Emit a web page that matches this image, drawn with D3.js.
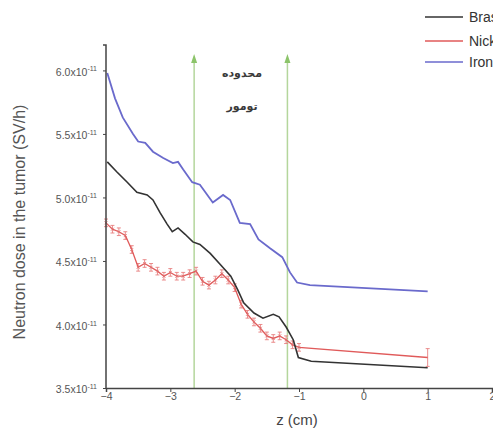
<!DOCTYPE html>
<html><head><meta charset="utf-8">
<script src="https://cdn.jsdelivr.net/npm/d3@7"></script>
<style>body{margin:0;background:#fff;overflow:hidden}</style>
</head><body><svg id="c" width="493" height="430"></svg>
<script>
const seriesNames = ["Brass", "Nickel", "Iron"];
const seriesColors = ["#333333", "#e05a5a", "#6a6acc"];
const xTicks = [-4, -3, -2, -1, 0, 1, 2];
const yTicks = [3.5, 4.0, 4.5, 5.0, 5.5, 6.0];
const ironZ = [-3.98,-3.86,-3.74,-3.58,-3.50,-3.39,-3.27,-3.11,-2.96,-2.88,-2.80,-2.66,-2.54,-2.34,-2.18,-2.07,-1.92,-1.76,-1.63,-1.45,-1.26,-1.14,-1.03,-0.83,1.0];
const ironV = [5.98,5.78,5.63,5.50,5.44,5.43,5.36,5.31,5.27,5.28,5.22,5.12,5.10,4.96,5.02,4.98,4.80,4.79,4.67,4.60,4.53,4.41,4.33,4.31,4.26];
const brassZ = [-3.98,-3.83,-3.67,-3.52,-3.36,-3.27,-3.16,-3.05,-2.97,-2.88,-2.77,-2.65,-2.54,-2.38,-2.22,-2.06,-1.95,-1.86,-1.70,-1.56,-1.40,-1.31,-1.20,-1.09,-1.01,-0.81,1.0];
const brassV = [5.28,5.20,5.12,5.04,5.02,4.98,4.88,4.79,4.73,4.76,4.71,4.65,4.63,4.56,4.47,4.38,4.27,4.17,4.09,4.05,4.08,4.06,3.98,3.88,3.74,3.71,3.66];
const nickelZ = [-4.0,-3.9,-3.8,-3.7,-3.6,-3.5,-3.4,-3.3,-3.2,-3.1,-3.0,-2.9,-2.8,-2.7,-2.6,-2.5,-2.4,-2.3,-2.2,-2.1,-2.0,-1.9,-1.8,-1.7,-1.6,-1.5,-1.4,-1.3,-1.2,-1.1,-1.0,1.0];
const nickelV = [4.80,4.75,4.73,4.70,4.59,4.45,4.48,4.45,4.42,4.38,4.41,4.38,4.38,4.40,4.42,4.34,4.31,4.35,4.40,4.35,4.29,4.16,4.08,4.02,3.97,3.91,3.89,3.91,3.88,3.84,3.82,3.74];
const nickelErr = [0.03,0.03,0.03,0.03,0.03,0.03,0.03,0.03,0.03,0.03,0.03,0.03,0.03,0.03,0.03,0.03,0.03,0.03,0.03,0.03,0.03,0.03,0.03,0.03,0.03,0.03,0.03,0.03,0.03,0.03,0.03,0.07];
const tumorBounds = [-2.63, -1.18];
const tumorLabel = ["محدوده", "تومور"];

const svg = d3.select("#c");
const x = d3.scaleLinear().domain([-4, 2]).range([106, 492]);
const y = d3.scaleLinear().domain([3.5, 6.2]).range([388, 45]);
const font = "Liberation Sans, Arial, sans-serif";

// tumor region lines
tumorBounds.forEach(b => {
  svg.append("line").attr("x1", x(b)).attr("x2", x(b)).attr("y1", 60).attr("y2", y(3.5))
    .attr("stroke", "#b4d69c").attr("stroke-width", 1.5);
  svg.append("path").attr("d", `M${x(b)-3},63 L${x(b)},54 L${x(b)+3},63 Z`).attr("fill", "#8cc46a");
});
tumorLabel.forEach((t, i) => {
  svg.append("text").attr("x", 242).attr("y", 77 + i * 33).attr("text-anchor", "middle")
    .attr("font-family", "DejaVu Sans").attr("font-size", 11).attr("font-weight", "bold")
    .attr("fill", "#3a3a3a").text(t);
});

const line = d3.line().x(d => x(d[0])).y(d => y(d[1]));
const iron = ironZ.map((z, i) => [z, ironV[i]]);
const brass = brassZ.map((z, i) => [z, brassV[i]]);
const nickel = nickelZ.map((z, i) => [z, nickelV[i], nickelErr[i]]);

// nickel error bars
const eb = svg.append("g").attr("stroke", "#e88080").attr("stroke-width", 0.9);
nickel.forEach(d => {
  eb.append("line").attr("x1", x(d[0])).attr("x2", x(d[0])).attr("y1", y(d[1]-d[2])).attr("y2", y(d[1]+d[2]));
  [d[1]-d[2], d[1]+d[2]].forEach(v => eb.append("line").attr("x1", x(d[0])-2).attr("x2", x(d[0])+2).attr("y1", y(v)).attr("y2", y(v)));
});
svg.append("path").datum(nickel).attr("d", line).attr("fill", "none").attr("stroke", seriesColors[1]).attr("stroke-width", 1.3);
svg.append("g").selectAll("path").data(nickel.slice(0, -1)).join("path")
  .attr("d", d => `M${x(d[0])-1.5},${y(d[1])-1.5}l3,3M${x(d[0])-1.5},${y(d[1])+1.5}l3,-3`)
  .attr("stroke", "#e07070").attr("stroke-width", 0.8);
svg.append("path").datum(brass).attr("d", line).attr("fill", "none").attr("stroke", seriesColors[0]).attr("stroke-width", 1.6);
svg.append("path").datum(iron).attr("d", line).attr("fill", "none").attr("stroke", seriesColors[2]).attr("stroke-width", 1.8);

// axes
const xAxis = svg.append("g").attr("transform", `translate(0,${y(3.5)})`)
  .call(d3.axisBottom(x).tickValues(xTicks).tickSize(4).tickFormat(d3.format("d")));
const yAxis = svg.append("g").attr("transform", `translate(${x(-4)},0)`)
  .call(d3.axisLeft(y).tickValues(yTicks).tickSize(3).tickFormat(""));
[xAxis, yAxis].forEach(a => {
  a.select(".domain").attr("stroke", "#444").attr("stroke-width", 1.5);
  a.selectAll(".tick line").attr("stroke", "#444");
});
yAxis.select(".domain").attr("d", `M-3,${y(6.2)}H0V${y(3.5)}`);
xAxis.selectAll(".tick text").attr("font-family", font).attr("font-size", 10.5).attr("fill", "#555").attr("dy", "0.45em");
const yl = yAxis.selectAll(".tick").append("text").attr("x", -9).attr("dy", "0.45em")
  .attr("text-anchor", "end").attr("font-family", font).attr("font-size", 10.5).attr("fill", "#555");
yl.append("tspan").text(d => d.toFixed(1) + "x10");
yl.append("tspan").attr("dy", "-0.6em").attr("font-size", 7).text("-11");

svg.append("text").attr("x", 297).attr("y", 425).attr("text-anchor", "middle")
  .attr("font-family", font).attr("font-size", 15).attr("fill", "#444").text("z (cm)");
svg.append("text").attr("transform", "translate(25,222) rotate(-90)").attr("text-anchor", "middle")
  .attr("font-family", font).attr("font-size", 16).attr("fill", "#555").text("Neutron dose in the tumor (SV/h)");

// legend
const legY = [17, 41, 62];
seriesNames.forEach((n, i) => {
  svg.append("line").attr("x1", 425).attr("x2", 463).attr("y1", legY[i]).attr("y2", legY[i])
    .attr("stroke", seriesColors[i]).attr("stroke-width", 1.6);
  svg.append("text").attr("x", 469).attr("y", legY[i] + 5).attr("font-family", font).attr("font-size", 14)
    .attr("fill", "#333").text(n);
});
</script></body></html>
